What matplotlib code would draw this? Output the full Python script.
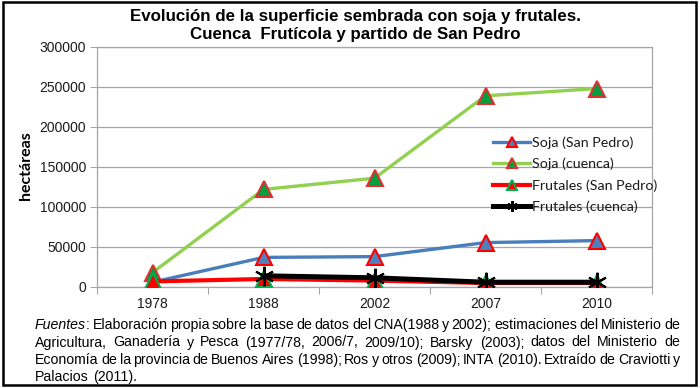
import numpy as np
import matplotlib
matplotlib.use("Agg")
import matplotlib.pyplot as plt
from matplotlib.patches import Rectangle
from matplotlib.ticker import FixedLocator, NullFormatter

# ---------------- data ----------------
years = ["1978", "1988", "2002", "2007", "2010"]
soja_san_pedro = [6000, 37000, 38000, 55500, 58000]
soja_cuenca = [18000, 122000, 136000, 239000, 248000]
frutales_san_pedro = [7000, 10000, 8000, 5000, 5000]
frutales_cuenca = [np.nan, 14000, 11500, 6000, 6000]
labels = ["Soja (San Pedro)", "Soja (cuenca)", "Frutales (San Pedro)", "Frutales (cuenca)"]
yticks = [0, 50000, 100000, 150000, 200000, 250000, 300000]

title1 = "Evolución de la superficie sembrada con soja y frutales."
title2 = "Cuenca  Frutícola y partido de San Pedro"
ylabel = "hectáreas"
foot_lines = [
    "Fuentes: Elaboración propia sobre la base de datos del CNA(1988 y 2002); estimaciones del Ministerio de",
    "Agricultura, Ganadería y Pesca (1977/78, 2006/7, 2009/10); Barsky (2003); datos del Ministerio de",
    "Economía de la provincia de Buenos Aires (1998); Ros y otros (2009); INTA (2010). Extraído de Craviotti y",
    "Palacios (2011).",
]

W, H = 700, 388
fig = plt.figure(figsize=(W / 100, H / 100), dpi=100)
ax = fig.add_axes([97 / W, 1 - 287 / H, (652 - 97) / W, (287 - 47) / H])

x = np.arange(len(years))
grid_c = "#A6A6A6"

l1, = ax.plot(x, soja_san_pedro, color="#4A7EBB", lw=2.4, marker="^", ms=12,
              mfc="#4F81BD", mec="#FF0000", mew=1.5, zorder=3)
l2, = ax.plot(x, soja_cuenca, color="#92D050", lw=2.4, marker="^", ms=12,
              mfc="#00A040", mec="#E03030", mew=1.5, zorder=3)
l3, = ax.plot(x, frutales_san_pedro, color="#FF0000", lw=3.0, marker="^", ms=12,
              mfc="#FF0000", mec="#00B050", mew=1.5, zorder=4)
l4, = ax.plot(x, frutales_cuenca, color="#000000", lw=3.6, marker=(6, 2, 0), ms=14,
              mec="#000000", mew=1.5, zorder=5)

ax.set_xlim(-0.5, len(years) - 0.5)
ax.set_ylim(0, 300000)
ax.set_yticks(yticks)
ax.set_yticklabels([str(v) for v in yticks])
ax.set_xticks(x)
ax.set_xticklabels(years)
ax.xaxis.set_minor_locator(FixedLocator(np.arange(-0.5, len(years), 1.0)))
ax.xaxis.set_minor_formatter(NullFormatter())
ax.tick_params(axis="x", which="major", length=0, pad=7, labelsize=10, labelcolor="#1a1a1a")
ax.tick_params(axis="x", which="minor", length=5, width=0.8, color=grid_c, direction="out")
ax.tick_params(axis="y", length=5, width=0.8, color=grid_c, direction="out", pad=3,
               labelsize=10, labelcolor="#1a1a1a")
for lab in ax.get_xticklabels() + ax.get_yticklabels():
    lab.set_fontfamily("Liberation Sans")
ax.yaxis.grid(True, color=grid_c, lw=0.9)
ax.set_axisbelow(True)
for s in ax.spines.values():
    s.set_color(grid_c)
    s.set_linewidth(0.9)

leg = ax.legend([l1, l2, l3, l4], labels, loc="upper left",
                bbox_to_anchor=(493 / W, 1 - 136.5 / H), bbox_transform=fig.transFigure,
                frameon=False, prop={"family": "Lato", "size": 10.3},
                handlelength=2.6, handletextpad=0.15, labelspacing=0.62,
                markerscale=0.55, borderpad=0, borderaxespad=0)
for t in leg.get_texts():
    t.set_color("#1a1a1a")

fig.text(26 / W, 1 - 166 / H, ylabel, rotation=90, ha="center", va="center",
         fontfamily="Lato", fontweight="bold", fontsize=11.5, color="#000000")

fig.text(355 / W, 1 - 16 / H, title1, ha="center", va="center",
         fontfamily="Liberation Sans", fontweight="bold", fontsize=12.2)
fig.text(355 / W, 1 - 35 / H, title2, ha="center", va="center",
         fontfamily="Liberation Sans", fontweight="bold", fontsize=12.2)

# outer frame
fig.patches.append(Rectangle((2.5 / W, 1 - 385 / H), (695.5 - 2.5) / W, (385 - 2) / H,
                             transform=fig.transFigure, fill=False, ec="#000000", lw=1.8))

# justified footnote
fig.canvas.draw()
r = fig.canvas.get_renderer()
fs = 10.2
fam = "Liberation Sans"


def text_w(s, style="normal"):
    t = fig.text(0, 0, s, fontsize=fs, fontfamily=fam, fontstyle=style)
    w = t.get_window_extent(r).width
    t.remove()
    return w


L, R = 35, 680
baselines = [329, 346.5, 364, 381]
space_w = text_w("a b") - text_w("ab")
for i, line in enumerate(foot_lines):
    words = line.split(" ")
    widths = []
    for wd in words:
        if wd == "Fuentes:":
            widths.append(text_w("Fuentes", "italic") + text_w(":"))
        else:
            widths.append(text_w(wd))
    justified = i < len(foot_lines) - 1
    if justified:
        gap = (R - L - sum(widths)) / (len(words) - 1)
    else:
        gap = space_w
    xp = L
    yb = 1 - baselines[i] / H
    for wd, w in zip(words, widths):
        if wd == "Fuentes:":
            fig.text(xp / W, yb, "Fuentes", fontsize=fs, fontfamily=fam, fontstyle="italic", va="baseline")
            fig.text((xp + text_w("Fuentes", "italic")) / W, yb, ":", fontsize=fs, fontfamily=fam, va="baseline")
        else:
            fig.text(xp / W, yb, wd, fontsize=fs, fontfamily=fam, va="baseline")
        xp += w + gap

fig.savefig("out.png", dpi=100)
